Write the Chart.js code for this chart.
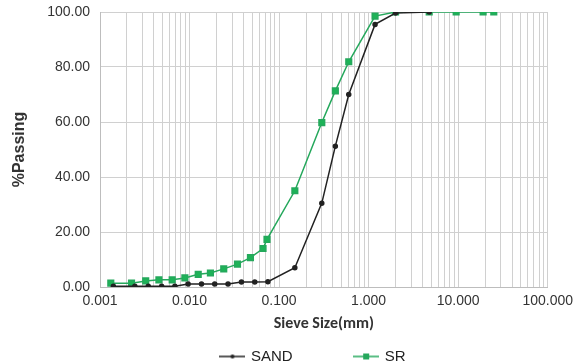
<!DOCTYPE html>
<html>
<head>
<meta charset="utf-8">
<script src="https://cdn.jsdelivr.net/npm/chart.js@4/dist/chart.umd.min.js"></script>
<style>
  html, body { margin: 0; padding: 0; background: #fff; }
  #wrap { width: 579px; height: 363px; position: relative; }
</style>
</head>
<body>
<div id="wrap"><canvas id="psd"></canvas></div>
<script>
// sieve sizes (mm) and % passing
const sandSize = [0.00141, 0.00245, 0.00346, 0.00488, 0.00686, 0.00964, 0.0136, 0.0191, 0.0269, 0.038, 0.0535, 0.075, 0.15, 0.3, 0.425, 0.6, 1.18, 2.0, 4.75];
const sandPass = [0.3, 0.3, 0.3, 0.3, 0.3, 1.1, 1.1, 1.1, 1.1, 1.8, 1.8, 1.9, 7.0, 30.5, 51.2, 70.0, 95.5, 99.6, 100];

const srSize = [0.00132, 0.00225, 0.00324, 0.00455, 0.0064, 0.00887, 0.0125, 0.0171, 0.0241, 0.0343, 0.0479, 0.0662, 0.0733, 0.15, 0.3, 0.425, 0.6, 1.18, 2.0, 4.75, 9.5, 19, 25];
const srPass = [1.4, 1.4, 2.2, 2.6, 2.6, 3.3, 4.6, 5.1, 6.6, 8.3, 10.7, 14.0, 17.3, 35.0, 59.8, 71.3, 81.9, 98.5, 100, 100, 100, 100, 100];

const xTicks = [0.001, 0.01, 0.1, 1, 10, 100];
const yTicks = [0, 20, 40, 60, 80, 100];

const GREEN = "#25a85c";
const GREEN_FILL = "#1db357";
const FONT = "Arial, 'Liberation Sans', sans-serif";

function pts(xs, ys) {
  return xs.map((x, i) => ({x: x, y: ys[i]}));
}

// legend icon: short line with the marker in the middle
function legendIcon(color, square) {
  const c = document.createElement("canvas");
  c.width = 26; c.height = 10;
  const g = c.getContext("2d");
  g.strokeStyle = color; g.lineWidth = 1.5;
  g.beginPath(); g.moveTo(0, 5); g.lineTo(26, 5); g.stroke();
  g.fillStyle = color;
  if (square) g.fillRect(10, 2, 6, 6);
  else { g.beginPath(); g.arc(13, 5, 2, 0, Math.PI * 2); g.fill(); }
  return c;
}

// nudge the legend to where the original sits
const legendNudge = {
  id: "legendNudge",
  afterLayout(chart) {
    const lg = chart.legend;
    lg.left += 36; lg.right += 36;
    lg.top += 11; lg.bottom += 11;
  }
};

const gridColor = "#d0d0d0";

new Chart(document.getElementById("psd"), {
  type: "line",
  data: {
    datasets: [
      {
        label: "SAND",
        data: pts(sandSize, sandPass),
        borderColor: "#222",
        backgroundColor: "#222",
        borderWidth: 1.5,
        pointRadius: 2,
        pointStyle: "circle",
        tension: 0
      },
      {
        label: "SR",
        data: pts(srSize, srPass),
        borderColor: GREEN,
        backgroundColor: GREEN_FILL,
        borderWidth: 1.5,
        pointRadius: 4,
        pointStyle: "rect",
        tension: 0
      }
    ]
  },
  plugins: [legendNudge],
  options: {
    responsive: true,
    maintainAspectRatio: false,
    animation: false,
    layout: { padding: { left: 6, right: 30, top: 12, bottom: 0 } },
    plugins: {
      tooltip: { enabled: false },
      legend: {
        position: "bottom",
        labels: {
          usePointStyle: true,
          pointStyleWidth: 22,
          generateLabels: function(chart) {
            return chart.data.datasets.map((d, i) => ({
              text: i === 0 ? d.label + " ".repeat(15) : d.label,
              pointStyle: legendIcon(i === 0 ? "#222" : GREEN, i === 1),
              fontColor: "#222",
              datasetIndex: i,
              lineWidth: 0
            }));
          },
          font: { family: FONT, size: 15 },
          color: "#222",
          padding: 0,
          boxHeight: 10
        }
      }
    },
    scales: {
      x: {
        type: "logarithmic",
        min: 0.001,
        max: 100,
        afterBuildTicks: function(scale) {
          const t = [];
          xTicks.forEach((d, k) => {
            for (let m = 1; m <= 9; m++) {
              if (k === xTicks.length - 1 && m > 1) break;
              t.push({ value: d * m, major: m === 1 });
            }
          });
          scale.ticks = t;
        },
        afterFit: function(scale) { scale.height = 51; },
        ticks: {
          autoSkip: false,
          maxRotation: 0,
          color: "#333",
          font: { family: FONT, size: 14 },
          padding: 6,
          callback: function(v) {
            return xTicks.includes(v) ? v.toFixed(3) : "";
          }
        },
        grid: { color: gridColor, lineWidth: 1, drawTicks: false },
        border: { color: "#bdbdbd" },
        title: {
          display: true,
          text: "Sieve Size(mm)",
          color: "#333",
          font: { family: "Calibri, Carlito, 'Open Sans', sans-serif", size: 16, weight: "bold" },
          padding: { top: 2 }
        }
      },
      y: {
        min: 0,
        max: 100,
        afterBuildTicks: function(scale) {
          scale.ticks = yTicks.map(v => ({ value: v }));
        },
        afterFit: function(scale) { scale.width = 94; scale.paddingTop = 0; },
        ticks: {
          color: "#333",
          font: { family: FONT, size: 14 },
          padding: 10,
          callback: function(v) { return v.toFixed(2); }
        },
        grid: { color: gridColor, lineWidth: 1, drawTicks: false },
        border: { color: "#bdbdbd" },
        title: {
          display: true,
          text: "%Passing",
          color: "#333",
          font: { family: FONT, size: 16, weight: "bold" },
          padding: { bottom: 4 }
        }
      }
    }
  }
});
</script>
</body>
</html>
